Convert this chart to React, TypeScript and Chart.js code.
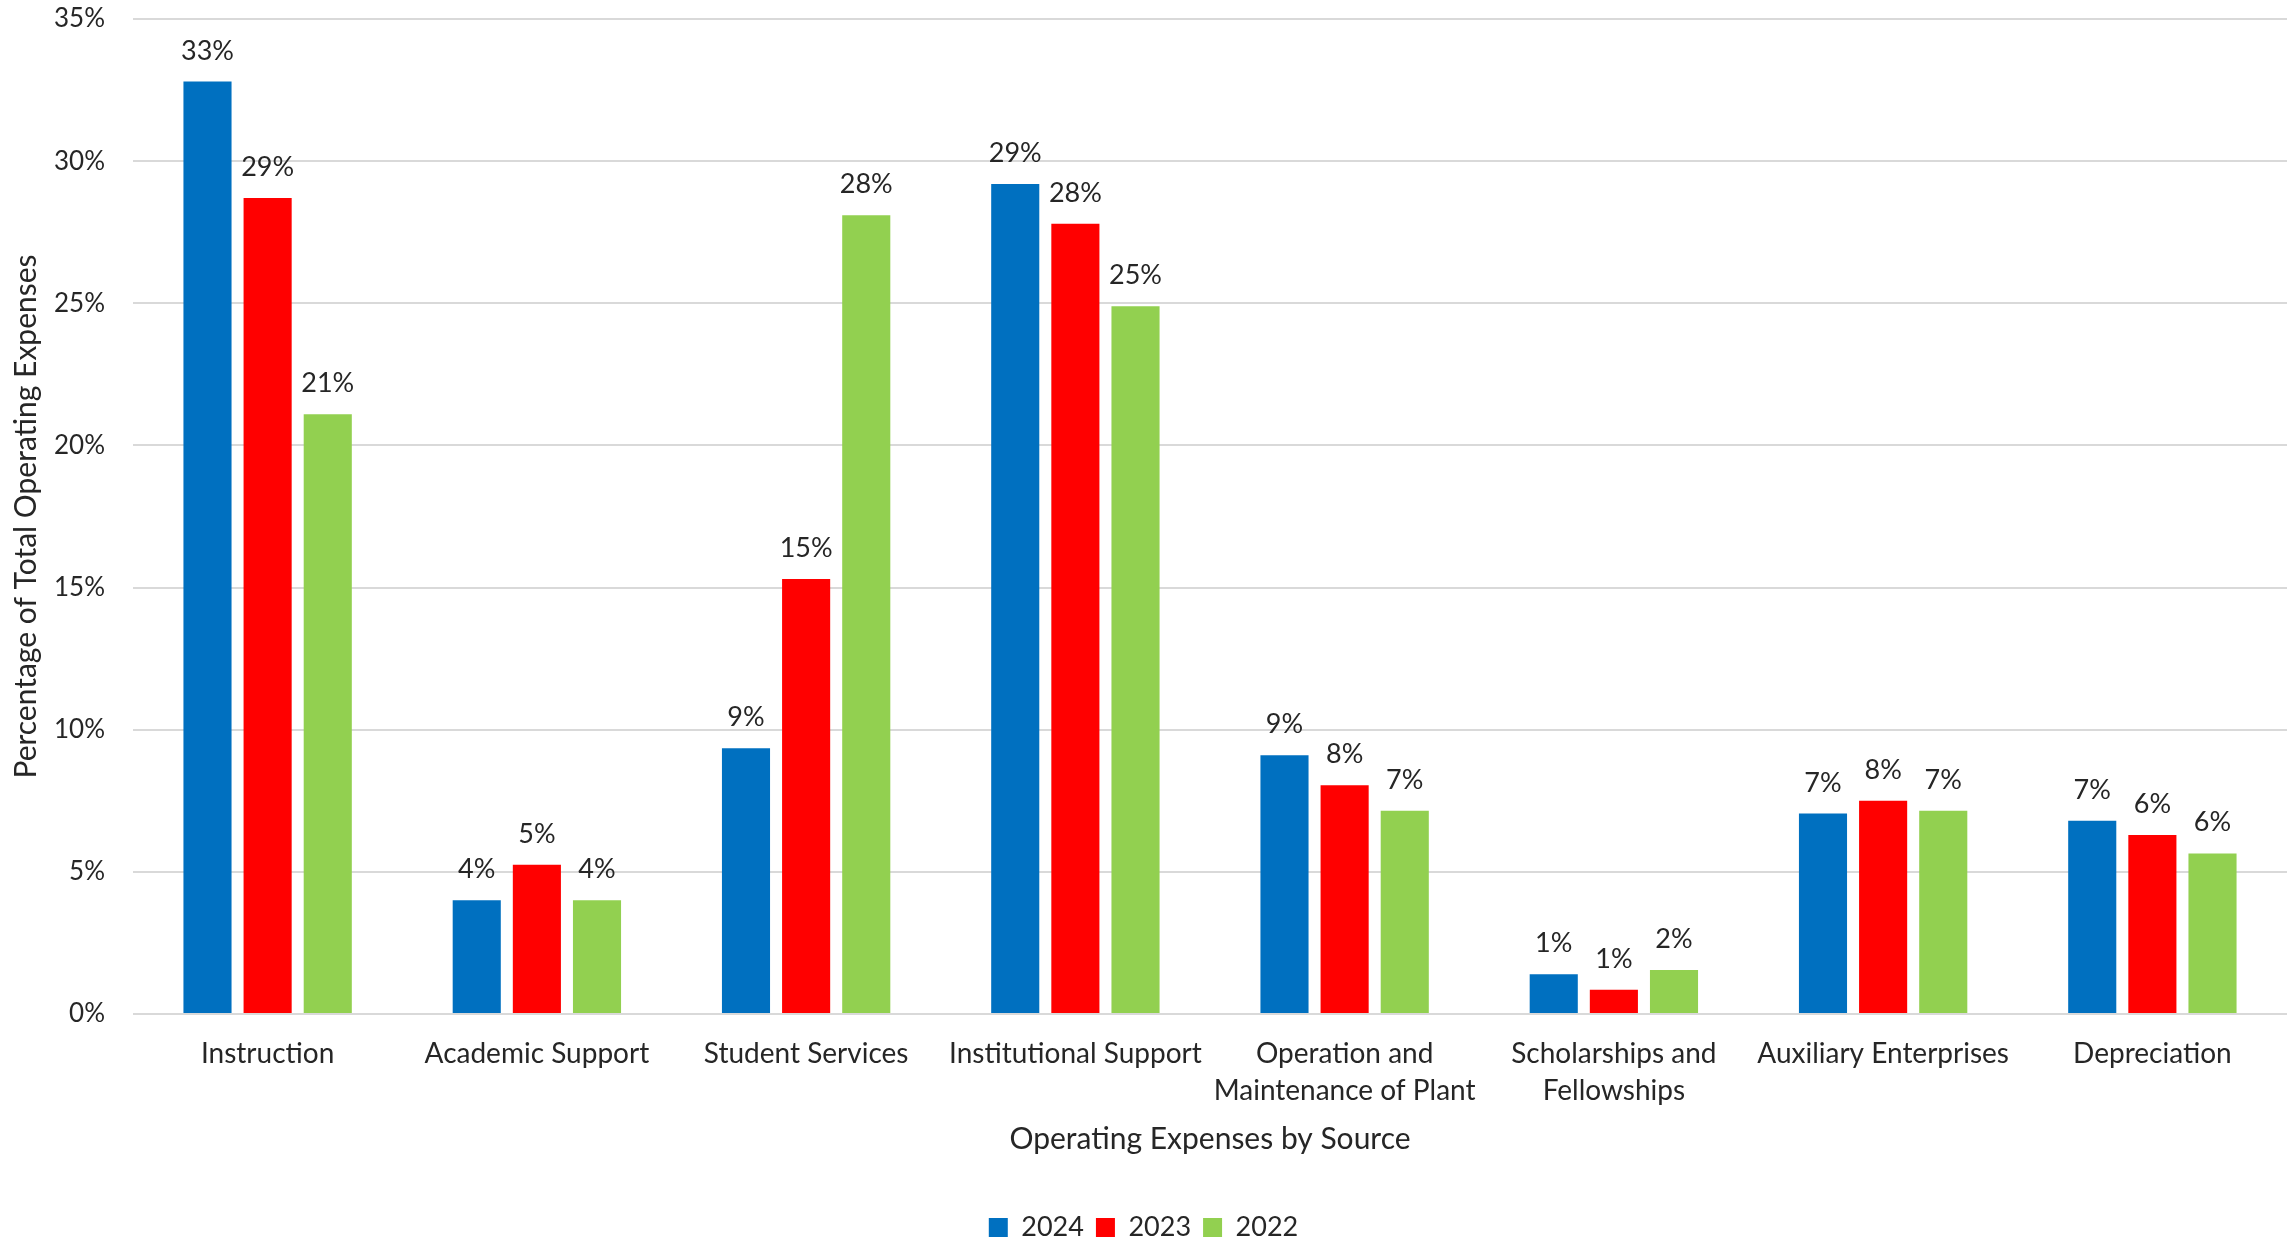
import React, { useEffect, useRef } from 'react';
import { Chart, registerables } from 'chart.js';

Chart.register(...registerables);

const categories: (string | string[])[] = [
  'Instruction',
  'Academic Support',
  'Student Services',
  'Institutional Support',
  ['Operation and', 'Maintenance of Plant'],
  ['Scholarships and', 'Fellowships'],
  'Auxiliary Enterprises',
  'Depreciation',
];
const seriesNames = ['2024', '2023', '2022'];
const values2024 = [32.8, 4.0, 9.35, 29.2, 9.1, 1.4, 7.05, 6.8];
const values2023 = [28.7, 5.25, 15.3, 27.8, 8.05, 0.85, 7.5, 6.3];
const values2022 = [21.1, 4.0, 28.1, 24.9, 7.15, 1.55, 7.15, 5.65];
const seriesColors = ['#0070C0', '#FF0000', '#92D050'];
const yMax = 35;
const yStep = 5;

const FONT = 'Lato, Calibri, Carlito, sans-serif';
const TEXT = '#262626';

const dataLabelPlugin = {
  id: 'dataLabels',
  afterDatasetsDraw(chart: any) {
    const ctx = chart.ctx;
    ctx.save();
    ctx.font = `27px ${FONT}`;
    ctx.fillStyle = TEXT;
    ctx.textAlign = 'center';
    ctx.textBaseline = 'alphabetic';
    chart.data.datasets.forEach((ds: any, i: number) => {
      const meta = chart.getDatasetMeta(i);
      meta.data.forEach((bar: any, j: number) => {
        const v = ds.data[j];
        ctx.fillText(`${Math.round(v)}%`, bar.x, bar.y - 22);
      });
    });
    ctx.restore();
  },
};

export default function App() {
  const ref = useRef<HTMLCanvasElement>(null);
  useEffect(() => {
    if (!ref.current) return;
    const chart = new Chart(ref.current, {
      type: 'bar',
      data: {
        labels: categories,
        datasets: [values2024, values2023, values2022].map((d, i) => ({
          label: seriesNames[i],
          data: d,
          backgroundColor: seriesColors[i],
          borderWidth: 0,
          categoryPercentage: 0.67,
          barPercentage: 0.8,
        })),
      },
      options: {
        animation: false,
        responsive: false,
        maintainAspectRatio: false,
        layout: { padding: { top: 19, right: 2, left: 0, bottom: -11 } },
        plugins: {
          legend: {
            position: 'bottom',
            labels: {
              boxWidth: 19,
              boxHeight: 19,
              padding: 12,
              color: TEXT,
              font: { family: FONT, size: 27 },
            },
          },
          tooltip: { enabled: false },
        },
        scales: {
          x: {
            grid: { display: false, drawTicks: false },
            border: { display: false },
            ticks: {
              color: TEXT,
              padding: 22,
              maxRotation: 0,
              autoSkip: false,
              font: { family: FONT, size: 28, lineHeight: 1.3 },
            },
            title: {
              display: true,
              text: 'Operating Expenses by Source',
              color: TEXT,
              font: { family: FONT, size: 30 },
              padding: { top: 0, bottom: 45 },
            },
            afterFit(scale: any) {
              scale.height = 188;
            },
          },
          y: {
            min: 0,
            max: yMax,
            grid: { color: '#D9D9D9', lineWidth: 2, drawTicks: false },
            border: { display: false },
            ticks: {
              stepSize: yStep,
              color: TEXT,
              padding: 28,
              font: { family: FONT, size: 26 },
              callback: (v: any) => `${v}%`,
            },
            title: {
              display: true,
              text: 'Percentage of Total Operating Expenses',
              color: TEXT,
              font: { family: FONT, size: 30 },
              padding: { top: 8, bottom: 0 },
            },
            afterFit(scale: any) {
              scale.width = 133;
              scale.paddingTop = 0;
              scale.paddingBottom = 0;
            },
          },
        },
      },
      plugins: [dataLabelPlugin],
    } as any);
    return () => chart.destroy();
  }, []);
  return (
    <div style={{ position: 'fixed', left: 0, top: 0, width: 2289, height: 1240, background: '#fff' }}>
      <canvas ref={ref} width={2289} height={1240} style={{ width: 2289, height: 1240 }} />
    </div>
  );
}
